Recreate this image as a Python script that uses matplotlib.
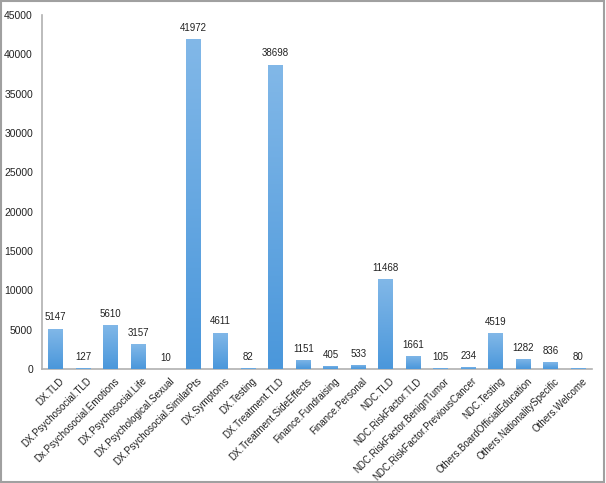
import matplotlib
matplotlib.use("Agg")
import matplotlib.pyplot as plt
import numpy as np
from matplotlib.colors import LinearSegmentedColormap
from matplotlib.patches import Rectangle
import matplotlib.transforms as mtransforms

categories = ["DX.TLD", "DX.Psychosocial.TLD", "Dx.Psychosocial.Emotions", "DX.Psychosocial.Life",
              "DX.Psychological.Sexual", "DX.Psychosocial.SimilarPts", "DX.Symptoms", "DX.Testing",
              "DX.Treatment.TLD", "DX.Treatment.SideEffects", "Finance.Fundraising", "Finance.Personal",
              "NDC.TLD", "NDC.RiskFactor.TLD", "NDC.RiskFactor.BenignTumor", "NDC.RiskFactor.PreviousCancer",
              "NDC.Testing", "Others.BoardOfficialEducation", "Others.NationalitySpecific", "Others.Welcome"]
values = [5147, 127, 5610, 3157, 10, 41972, 4611, 82, 38698, 1151, 405, 533,
          11468, 1661, 105, 234, 4519, 1282, 836, 80]
yticks = [0, 5000, 10000, 15000, 20000, 25000, 30000, 35000, 40000, 45000]

plt.rcParams['font.family'] = ['Liberation Sans', 'DejaVu Sans']

fig = plt.figure(figsize=(6.06, 4.83), dpi=100)
ax = fig.add_axes([42/606, 1 - 369/483, (592-42)/606, (369-15)/483])

x = np.arange(len(categories))
width = 0.545
bars = ax.bar(x, values, width=width, color='#62a7e2', edgecolor='none', zorder=2)

cmap = LinearSegmentedColormap.from_list('g', ['#4a97db', '#82b8e8'])
grad = np.linspace(0, 1, 256).reshape(-1, 1)
for b in bars:
    x0, w, h = b.get_x(), b.get_width(), b.get_height()
    im = ax.imshow(grad, extent=[x0, x0 + w, 0, h], origin='lower', aspect='auto',
                   cmap=cmap, zorder=3, interpolation='bicubic')
    im.set_clip_path(b)

for xi, v in zip(x, values):
    ax.annotate(str(v), (xi, v), xytext=(0, 4.5), textcoords='offset points',
                ha='center', va='bottom', fontsize=7, color='#222222')

ax.set_xlim(-0.5, len(categories) - 0.5)
ax.set_ylim(0, 45000)
ax.set_yticks(yticks)
ax.set_yticklabels([str(t) for t in yticks], fontsize=7.5, color='#222222')
ax.tick_params(axis='y', length=0, pad=6.5)
ax.set_xticks(x)
ax.set_xticklabels(categories, rotation=45, ha='right', va='top', rotation_mode='anchor',
                   fontsize=7, color='#222222')
ax.tick_params(axis='x', length=0, pad=5)
offset = mtransforms.ScaledTranslation(2.5/72, 0, fig.dpi_scale_trans)
for lab in ax.get_xticklabels():
    lab.set_transform(lab.get_transform() + offset)

for s in ['top', 'right']:
    ax.spines[s].set_visible(False)
ax.spines['left'].set_color('#b0b0b0')
ax.spines['bottom'].set_color('#b0b0b0')
ax.spines['left'].set_linewidth(1.2)
ax.spines['bottom'].set_linewidth(1.2)

fig.patches.append(Rectangle((0.001, 0.002), 0.996, 0.995, transform=fig.transFigure,
                             fill=False, edgecolor='#a0a0a0', linewidth=1.5))

fig.savefig('out.png', dpi=100)
